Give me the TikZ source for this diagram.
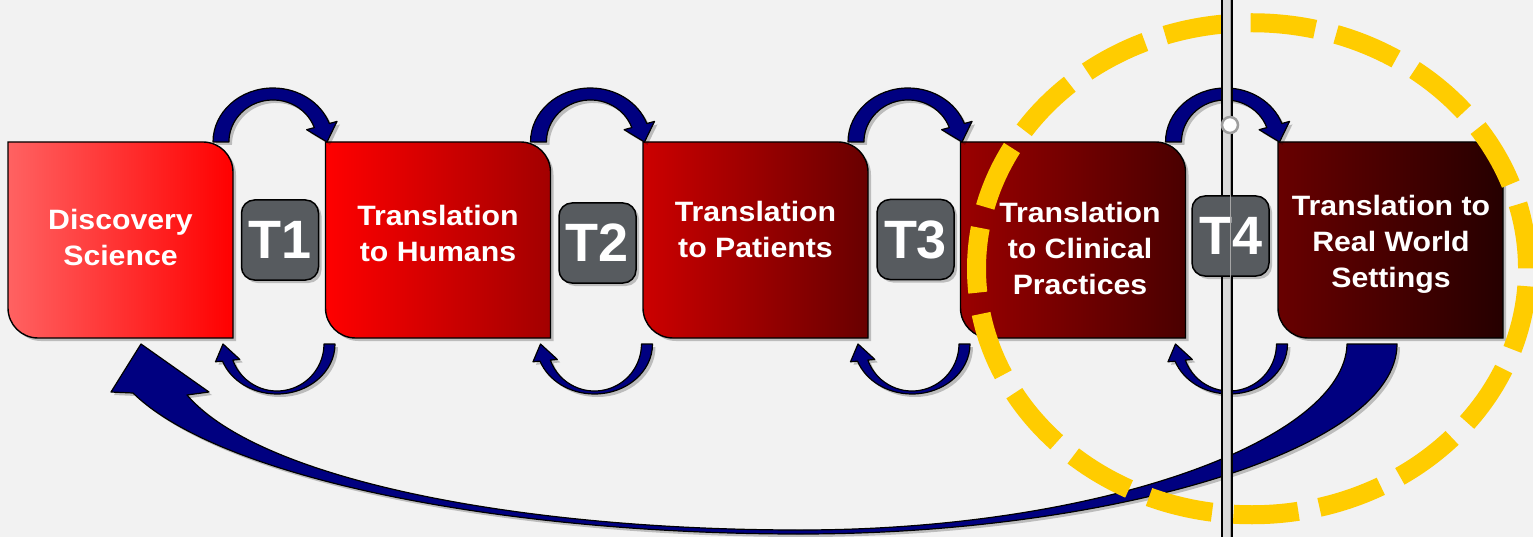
\documentclass[tikz,border=0pt]{standalone}
\usepackage{fontspec}
\newfontfamily\boxfont[FakeStretch=1.08]{Liberation Sans}
\newfontfamily\tlabfont{Liberation Sans}
\usetikzlibrary{shadows}
\definecolor{bgc}{HTML}{F2F2F2}
\definecolor{navyc}{HTML}{000080}
\definecolor{tgray}{HTML}{575B5F}
\definecolor{ylw}{HTML}{FFCC00}
\definecolor{bAl}{HTML}{FF6262}
\definecolor{bAm}{HTML}{FF1616}
\definecolor{bAr}{HTML}{FF0000}
\definecolor{bBl}{HTML}{FF0000}
\definecolor{bBm}{HTML}{D40000}
\definecolor{bBr}{HTML}{A20000}
\definecolor{bCl}{HTML}{CC0000}
\definecolor{bCm}{HTML}{9C0000}
\definecolor{bCr}{HTML}{680000}
\definecolor{bDl}{HTML}{9A0000}
\definecolor{bDm}{HTML}{740000}
\definecolor{bDr}{HTML}{4A0000}
\definecolor{bEl}{HTML}{680000}
\definecolor{bEm}{HTML}{480000}
\definecolor{bEr}{HTML}{260000}
\tikzset{
  shd/.style={drop shadow={shadow xshift=3pt, shadow yshift=-3pt, opacity=0.22, fill=black}},
  redbox/.style={draw=black, line width=1.4pt, shd},
  blockarrow/.style={fill=navyc, draw=black, line width=1.2pt, line join=round, shd},
  tbox/.style={draw=black, line width=1.5pt, fill=tgray, rounded corners=13pt,
    minimum width=77pt, minimum height=80pt, inner sep=0pt, text=white,
    font=\tlabfont\bfseries\fontsize{54}{54}\selectfont, shd},
  boxtext/.style={text=white, align=center, inner sep=0pt,
    font=\boxfont\bfseries\fontsize{28}{36}\selectfont}
}
\begin{document}
\begin{tikzpicture}[x=1pt,y=-1pt]
\fill[bgc] (0,0) rectangle (1533,537);
\useasboundingbox (0,0) rectangle (1533,537);

% red boxes
\foreach \L/\cl/\cm/\cr in {8/bAl/bAm/bAr, 325.5/bBl/bBm/bBr, 643/bCl/bCm/bCr, 960.5/bDl/bDm/bDr, 1278/bEl/bEm/bEr}{
  \path[redbox, left color=\cl, middle color=\cm, right color=\cr]
    (\L,142) -- ++(195,0) arc[start angle=270, end angle=360, radius=30]
    -- ++(0,166) -- ++(-195,0) arc[start angle=90, end angle=180, radius=30] -- cycle;
}

\node[boxtext] (n1) at (120.5,237) {Discovery\\Science};
\node[boxtext] (n2) at (438,233) {Translation\\to Humans};
\node[boxtext] (n3) at (755.5,229) {Translation\\to Patients};
\node[boxtext] (n4) at (1080,248) {Translation\\to Clinical\\Practices};
\node[boxtext] (n5) at (1391,244) {Translation to\\Real World\\Settings};

% curved arrows around each T
\foreach \i in {0,1,2,3}{
  \begin{scope}[xshift=\i*317.5pt]
    \path[blockarrow] (213,142) arc[start angle=180, end angle=340, x radius=60, y radius=54]
      -- (337,121.4) -- (327,142) -- (306.6,129.7) -- (314.3,127.6)
      arc[start angle=340, end angle=180, x radius=44, y radius=42] -- cycle;
    \path[blockarrow] (335,344) arc[start angle=0, end angle=160, x radius=58, y radius=50]
      -- (215.5,361.8) -- (223,344) -- (239.8,359.4) -- (232.8,360.1)
      arc[start angle=160, end angle=0, x radius=47, y radius=47] -- cycle;
  \end{scope}
}

% big return arrow
\path[blockarrow] (1347,344) -- (1397,344)
  .. controls (1397,450) and (1110,534) .. (800,534)
  .. controls (500,534) and (220,478) .. (133,393)
  -- (111,392) -- (141,344) -- (209,392) -- (187,395)
  .. controls (260,480) and (520,530) .. (800,530)
  .. controls (1100,530) and (1345,440) .. (1347,344) -- cycle;

% yellow dashed ellipse
\draw[ylw, line width=19pt, dash pattern=on 65pt off 21.5pt, dash phase=69pt]
  (1252,268.75) ellipse [x radius=275.5, y radius=246];

% vertical guide lines
\fill[black!14] (1223,0) rectangle (1231,537);
\draw[black, line width=2.6pt] (1222,0) -- (1222,537);
\draw[black, line width=2.6pt] (1232,0) -- (1232,537);

% T boxes
\node[tbox] (t1) at (280,240) {T1};
\node[tbox] (t2) at (597.5,243) {T2};
\node[tbox] (t3) at (915.5,239.5) {T3};
\node[tbox] (t4) at (1230.5,236) {T4};

\draw[black!35, line width=1pt] (1230,0) -- (1230,537);
\draw[fill=white, draw=black!38, line width=2.5pt] (1230,125) circle[radius=8];
\end{tikzpicture}
\end{document}
